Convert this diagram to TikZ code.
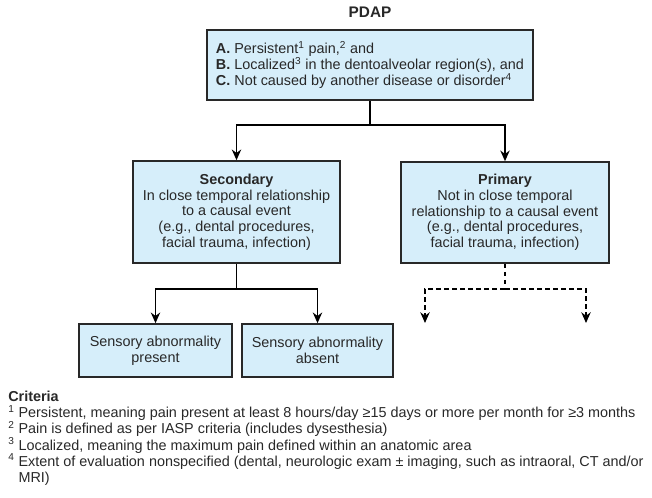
\documentclass[tikz,border=0pt]{standalone}
\usepackage{fontspec}
\setmainfont{Liberation Sans}
\usepackage{xcolor}
\usetikzlibrary{arrows.meta, positioning, calc}
\definecolor{boxblue}{RGB}{214,238,250}
\definecolor{inkgray}{RGB}{40,40,40}

\begin{document}
\begin{tikzpicture}[x=0.75pt, y=-0.75pt,
    every node/.style={font=\fontsize{10.8}{11.8}\selectfont, text=inkgray},
    critbox/.style={draw=inkgray, fill=boxblue, line width=1.2pt, inner sep=0pt, align=center},
    conn/.style={draw=black, line width=1.3pt, -{Stealth[length=8pt, width=7pt]}},
    dashconn/.style={conn, dash pattern=on 3.5pt off 2.5pt}]
  \useasboundingbox (0,0) rectangle (652,497);
  % title and entry criteria
  \node[font=\fontsize{11.5}{12}\selectfont\bfseries] (title) at (370,12) {PDAP};
  \node[critbox, align=left, minimum width=326*0.75pt, minimum height=70*0.75pt] (entry) at (370,65)
    {\textbf{A.} Persistent\textsuperscript{1} pain,\textsuperscript{2} and\\
     \textbf{B.} Localized\textsuperscript{3} in the dentoalveolar region(s), and\\
     \textbf{C.} Not caused by another disease or disorder\textsuperscript{4}};
  % second level
  \node[critbox, minimum width=207*0.75pt, minimum height=102*0.75pt] (sec) at (236.5,212)
    {\textbf{Secondary}\\In close temporal relationship\\to a causal event\\(e.g., dental procedures,\\facial trauma, infection)};
  \node[critbox, minimum width=208*0.75pt, minimum height=101*0.75pt] (pri) at (505,212.5)
    {\textbf{Primary}\\Not in close temporal\\relationship to a causal event\\(e.g., dental procedures,\\facial trauma, infection)};
  % third level
  \node[critbox, minimum width=153*0.75pt, minimum height=53*0.75pt] (sabpres) at (155.5,350.5)
    {Sensory abnormality\\present};
  \node[critbox, minimum width=151*0.75pt, minimum height=53*0.75pt] (sababs) at (317.5,350.5)
    {Sensory abnormality\\absent};
  % connectors
  \coordinate (split1) at (370,125);
  \coordinate (split2) at (236.5,289);
  \coordinate (split3) at (505,289);
  \coordinate (openl) at (425,323);
  \coordinate (openr) at (586,323);
  \draw[line width=1.3pt] (entry.south) -- (split1);
  \draw[conn] (split1) -| (sec.north);
  \draw[conn] (split1) -| (pri.north);
  \draw[line width=1.3pt] (sec.south) -- (split2);
  \draw[conn] (split2) -| (sabpres.north);
  \draw[conn] (split2) -| (sababs.north);
  \draw[line width=1.3pt, dash pattern=on 3.5pt off 2.5pt] (pri.south) -- (split3);
  \draw[dashconn] (split3) -| (openl);
  \draw[dashconn] (split3) -| (openr);
  % footnotes
  \node[anchor=north west, align=left, inner sep=0pt, font=\fontsize{10.8}{12.1}\selectfont] (crit) at (8,391)
    {\textbf{Criteria}\\
     \textsuperscript{1} Persistent, meaning pain present at least 8 hours/day ≥15 days or more per month for ≥3 months\\
     \textsuperscript{2} Pain is defined as per IASP criteria (includes dysesthesia)\\
     \textsuperscript{3} Localized, meaning the maximum pain defined within an anatomic area\\
     \textsuperscript{4} Extent of evaluation nonspecified (dental, neurologic exam ± imaging, such as intraoral, CT and/or\\
     \phantom{\textsuperscript{4} }MRI)};
\end{tikzpicture}
\end{document}
